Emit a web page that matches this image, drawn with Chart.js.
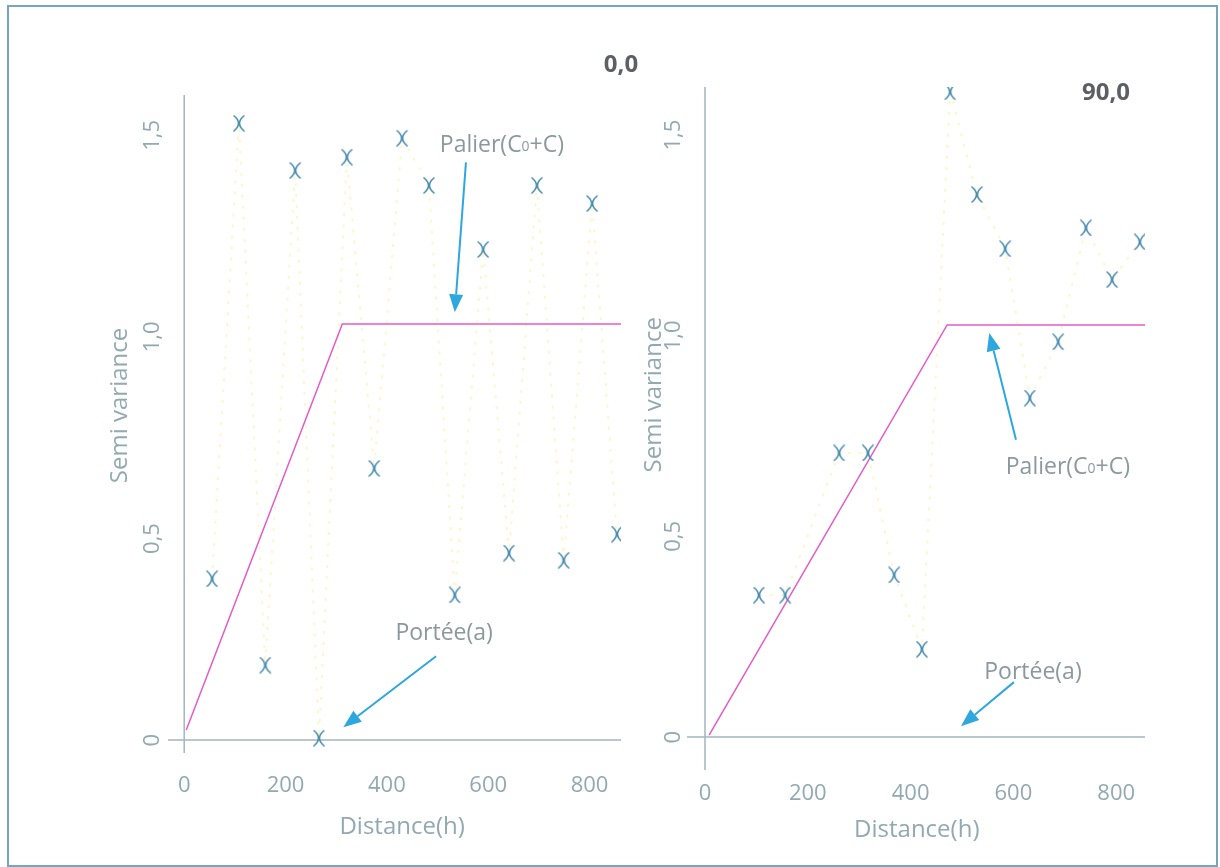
<!DOCTYPE html>
<html>
<head>
<meta charset="utf-8">
<script src="https://cdn.jsdelivr.net/npm/chart.js@4.4.1/dist/chart.umd.min.js"></script>
<style>
  html, body { margin: 0; padding: 0; background: #fff; }
  #page { position: relative; width: 1220px; height: 867px; overflow: hidden; background: #fff; }
  #frame { position: absolute; left: 7px; top: 5px; width: 1211px; height: 862px; box-sizing: border-box; border: 2px solid #76a6be; }
  canvas { position: absolute; top: 0; }
  #chart0 { left: 0; }
  #chart90 { left: 600px; }
  .dir { position: absolute; transform: translate(-50%, -50%); font: bold 24px 'Open Sans', sans-serif; color: #5c6063; }
</style>
</head>
<body>
<div id="page">
  <div id="frame"></div>
  <canvas id="chart0" width="640" height="867"></canvas>
  <canvas id="chart90" width="620" height="867"></canvas>
  <div class="dir" style="left:621px; top:62px">0,0</div>
  <div class="dir" style="left:1106px; top:90px">90,0</div>
</div>
<script>
(function () {
  'use strict';

  // experimental semivariogram, direction 0
  const LAGS_0 = [55, 108, 160, 219, 266, 321, 375, 430, 483, 534, 590, 641, 696, 749, 805, 854];
  const GAMMA_0 = [0.40, 1.53, 0.186, 1.413, 0.005, 1.446, 0.674, 1.493, 1.376, 0.36, 1.217, 0.464, 1.376, 0.446, 1.331, 0.511];

  // experimental semivariogram, direction 90
  const LAGS_90 = [105, 156, 261, 317, 368, 422, 477, 529, 584, 632, 687, 741, 792, 846];
  const GAMMA_90 = [0.354, 0.354, 0.708, 0.708, 0.404, 0.219, 1.608, 1.352, 1.217, 0.845, 0.985, 1.269, 1.140, 1.234];

  // fitted model (nugget, range, sill)
  const MODEL_0_X = [4, 312, 862];
  const MODEL_0_Y = [0.025, 1.032, 1.032];
  const MODEL_90_X = [8, 471, 856];
  const MODEL_90_Y = [0.005, 1.027, 1.027];

  const X_TICKS = [0, 200, 400, 600, 800];
  const Y_TICKS = [0, 0.5, 1, 1.5];
  const Y_TICK_LABELS = ['0', '0,5', '1,0', '1,5'];

  const X_TITLE = 'Distance(h)';
  const Y_TITLE = 'Semi variance';

  const FONT = "'Open Sans', sans-serif";
  const AXIS_COLOR = '#a3b6bf';
  const TEXT_COLOR = '#92a9b2';
  const NOTE_COLOR = '#8b999f';
  const ARROW_COLOR = '#2ea7de';
  const MODEL_COLOR = '#e45cc6';
  const MARK_COLOR = '#4a8db0';
  const TRACE_COLOR = 'rgba(240, 228, 90, 0.3)';

  Chart.defaults.font.family = FONT;

  function makeMarker(color) {
    const c = document.createElement('canvas');
    c.width = 14;
    c.height = 17;
    const g = c.getContext('2d');
    g.strokeStyle = color;
    g.lineWidth = 1.6;
    g.lineCap = 'round';
    g.beginPath();
    g.moveTo(2, 1);
    g.quadraticCurveTo(11, 8.5, 2, 16);
    g.moveTo(12, 1);
    g.quadraticCurveTo(3, 8.5, 12, 16);
    g.stroke();
    return c;
  }

  const marker = makeMarker(MARK_COLOR);

  function toPoints(xs, ys) {
    return xs.map((x, i) => ({ x, y: ys[i] }));
  }

  function drawArrow(ctx, x1, y1, x2, y2) {
    const ang = Math.atan2(y2 - y1, x2 - x1);
    const len = 18, half = 7;
    const bx = x2 - Math.cos(ang) * len;
    const by = y2 - Math.sin(ang) * len;
    ctx.strokeStyle = ARROW_COLOR;
    ctx.fillStyle = ARROW_COLOR;
    ctx.lineWidth = 2;
    ctx.beginPath();
    ctx.moveTo(x1, y1);
    ctx.lineTo(bx, by);
    ctx.stroke();
    ctx.beginPath();
    ctx.moveTo(x2, y2);
    ctx.lineTo(bx + Math.sin(ang) * half, by - Math.cos(ang) * half);
    ctx.lineTo(bx - Math.sin(ang) * half, by + Math.cos(ang) * half);
    ctx.closePath();
    ctx.fill();
  }

  // label with a small "0" after the first C, as in Palier(C0+C)
  function drawNote(ctx, parts, cx, cy) {
    const big = '23px ' + FONT;
    const small = '14px ' + FONT;
    let total = 0;
    parts.forEach((p) => {
      ctx.font = p.sub ? small : big;
      total += ctx.measureText(p.text).width;
    });
    let x = cx - total / 2;
    ctx.fillStyle = NOTE_COLOR;
    ctx.textAlign = 'left';
    ctx.textBaseline = 'middle';
    parts.forEach((p) => {
      ctx.font = p.sub ? small : big;
      ctx.fillText(p.text, x, p.sub ? cy + 2 : cy);
      x += ctx.measureText(p.text).width;
    });
  }

  const PALIER = [{ text: 'Palier(C' }, { text: '0', sub: true }, { text: '+C)' }];
  const PORTEE = [{ text: 'Portée(a)' }];

  function panelPlugin(p) {
    return {
      id: 'panel' + p.id,
      beforeDatasetsDraw(chart) {
        const { ctx, chartArea: a, scales: { x, y } } = chart;
        const x0 = x.getPixelForValue(0);
        const y0 = y.getPixelForValue(0);
        ctx.save();
        ctx.strokeStyle = AXIS_COLOR;
        ctx.lineWidth = 1.5;
        ctx.beginPath();
        ctx.moveTo(a.left, y0);
        ctx.lineTo(a.right, y0);
        ctx.moveTo(x0, a.top);
        ctx.lineTo(x0, a.bottom);
        ctx.stroke();
        ctx.restore();
      },
      afterDraw(chart) {
        const { ctx, scales: { x, y } } = chart;
        const px = (v) => x.getPixelForValue(v);
        const py = (v) => y.getPixelForValue(v);
        ctx.save();

        // y tick labels, rotated
        ctx.fillStyle = TEXT_COLOR;
        ctx.font = '22px ' + FONT;
        ctx.textAlign = 'center';
        ctx.textBaseline = 'middle';
        Y_TICKS.forEach((v, i) => {
          ctx.save();
          ctx.translate(px(p.yLabelAt), py(v));
          ctx.rotate(-Math.PI / 2);
          ctx.fillText(Y_TICK_LABELS[i], 0, 0);
          ctx.restore();
        });

        // axis titles
        ctx.font = '24px ' + FONT;
        ctx.fillText(X_TITLE, px(p.xTitle[0]), py(p.xTitle[1]));
        ctx.save();
        ctx.translate(px(p.yTitle[0]), py(p.yTitle[1]));
        ctx.rotate(-Math.PI / 2);
        ctx.fillText(Y_TITLE, 0, 0);
        ctx.restore();

        // annotations
        p.notes.forEach((n) => {
          drawArrow(ctx, px(n.from[0]), py(n.from[1]), px(n.to[0]), py(n.to[1]));
          drawNote(ctx, n.parts, px(n.at[0]), py(n.at[1]));
        });
        ctx.restore();
      },
    };
  }

  function buildChart(canvasId, p) {
    const pts = toPoints(p.lags, p.gamma);
    return new Chart(document.getElementById(canvasId), {
      type: 'scatter',
      data: {
        datasets: [
          {
            data: pts,
            showLine: true,
            borderColor: TRACE_COLOR,
            borderWidth: 2,
            borderDash: [3, 8],
            pointRadius: 0,
            order: 3,
          },
          {
            data: toPoints(p.modelX, p.modelY),
            showLine: true,
            borderColor: MODEL_COLOR,
            borderWidth: 1.5,
            pointRadius: 0,
            order: 2,
          },
          {
            data: pts,
            pointStyle: marker,
            pointRadius: 8,
            order: 1,
          },
        ],
      },
      options: {
        responsive: false,
        animation: false,
        events: [],
        layout: { padding: p.padding },
        plugins: { legend: { display: false }, tooltip: { enabled: false } },
        scales: {
          x: {
            type: 'linear',
            min: p.xRange[0],
            max: p.xRange[1],
            grid: { display: false, drawTicks: false },
            border: { display: false },
            afterBuildTicks: (s) => { s.ticks = X_TICKS.map((v) => ({ value: v })); },
            afterFit: (s) => { s.height = p.xHeight; },
            ticks: {
              color: TEXT_COLOR,
              font: { size: 22 },
              padding: p.xTickPad,
              maxRotation: 0,
              autoSkip: false,
            },
          },
          y: {
            type: 'linear',
            min: p.yRange[0],
            max: p.yRange[1],
            grid: { display: false, drawTicks: false },
            border: { display: false },
            ticks: { display: false },
            afterFit: (s) => { s.width = p.yWidth; },
          },
        },
      },
      plugins: [panelPlugin(p)],
    });
  }

  buildChart('chart0', {
    id: '0',
    lags: LAGS_0,
    gamma: GAMMA_0,
    modelX: MODEL_0_X,
    modelY: MODEL_0_Y,
    xRange: [-32, 862],
    yRange: [-0.032, 1.6],
    padding: { left: 0, top: 95, right: 19, bottom: 14 },
    yWidth: 168,
    xHeight: 100,
    xTickPad: 20,
    yLabelAt: -63,
    xTitle: [430, -0.216],
    yTitle: [-126, 0.83],
    notes: [
      { parts: PALIER, at: [627, 1.475], from: [556, 1.433], to: [534, 1.061] },
      { parts: PORTEE, at: [513, 0.265], from: [497, 0.208], to: [314, 0.032] },
    ],
  });

  buildChart('chart90', {
    id: '90',
    lags: LAGS_90,
    gamma: GAMMA_90,
    modelX: MODEL_90_X,
    modelY: MODEL_90_Y,
    xRange: [-35, 856],
    yRange: [-0.082, 1.62],
    padding: { left: 0, top: 87, right: 75, bottom: 7 },
    yWidth: 87,
    xHeight: 90,
    xTickPad: 11,
    yLabelAt: -60,
    xTitle: [412, -0.232],
    yTitle: [-99, 0.853],
    notes: [
      { parts: PALIER, at: [706, 0.673], from: [605, 0.741], to: [553, 1.007] },
      { parts: PORTEE, at: [638, 0.162], from: [601, 0.137], to: [498, 0.027] },
    ],
  });
})();
</script>
</body>
</html>
